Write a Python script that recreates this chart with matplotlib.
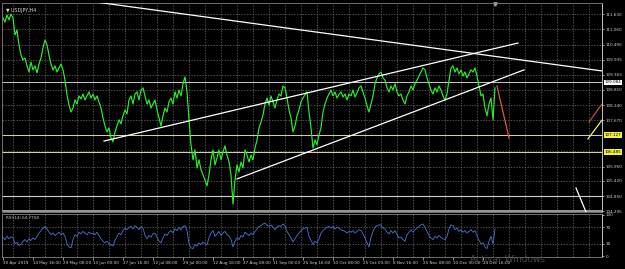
import matplotlib.pyplot as plt
import numpy as np

# USDJPY H4 close, one value per 4 bars
price = [
    111.48, 111.33, 111.59, 111.41, 111.63, 111.48, 110.85, 111.03, 110.48, 110.10,
    109.92, 109.99, 109.70, 109.47, 109.84, 109.55, 109.70, 109.44, 109.77, 109.99,
    110.37, 110.66, 110.48, 110.10, 109.77, 109.55, 109.70, 109.47, 109.62, 109.77,
    109.55, 109.17, 108.62, 108.24, 107.98, 108.13, 108.43, 108.28, 108.58, 108.47,
    108.65, 108.43, 108.58, 108.73, 108.50, 108.65, 108.43, 108.58, 108.36, 108.13,
    107.76, 107.46, 107.24, 107.39, 107.02, 106.87, 107.24, 107.46, 107.69, 107.54,
    107.84, 108.06, 107.91, 108.43, 108.58, 108.28, 108.65, 108.73, 108.43, 108.80,
    108.88, 108.58, 108.28, 108.43, 108.13, 108.28, 108.43, 108.06, 107.76, 107.46,
    107.84, 108.13, 107.98, 108.36, 108.50, 108.28, 108.73, 108.50, 108.80, 108.58,
    109.03, 109.29, 108.73, 107.69, 106.76, 106.20, 106.57, 105.90, 106.20, 105.83,
    105.64, 105.45, 105.23, 105.64, 106.20, 106.57, 106.01, 106.27, 106.57, 106.20,
    106.50, 106.72, 106.38, 106.12, 105.64, 104.55, 105.45, 106.01, 105.75, 106.12,
    105.90, 106.57, 106.38, 106.12, 106.38, 106.20, 106.64, 106.94, 107.39, 107.61,
    107.87, 108.28, 108.50, 108.24, 108.58, 108.36, 108.13, 108.43, 108.65, 108.58,
    108.95, 108.88, 108.50, 108.06, 107.76, 107.24, 107.46, 107.84, 108.06, 108.36,
    108.50, 108.62, 108.73, 107.98, 107.39, 106.64, 106.94, 106.76, 107.13, 107.39,
    107.98, 108.28, 108.50, 108.65, 108.80, 108.58, 108.73, 108.50, 108.65, 108.73,
    108.54, 108.65, 108.43, 108.65, 108.58, 108.80, 108.54, 108.69, 108.88, 108.95,
    108.73, 108.50, 108.21, 107.98, 108.28, 108.58, 109.03, 109.25, 109.40, 109.47,
    109.25, 109.17, 108.88, 108.73, 108.95, 108.80, 109.03, 108.73, 108.58, 108.65,
    108.43, 108.28, 108.58, 108.73, 108.95, 108.80, 109.03, 109.17, 109.32, 109.47,
    109.62, 109.55, 109.25, 109.03, 108.80, 108.65, 108.88, 108.73, 108.95, 108.80,
    108.58, 108.43, 108.65, 109.17, 109.62, 109.70, 109.47, 109.62, 109.40, 109.55,
    109.32, 109.47, 109.25, 109.40, 109.55, 109.47, 109.62, 109.32, 108.95, 108.58,
    108.65, 108.13, 107.84, 108.28, 108.50, 107.69, 108.88,
]

rsi = [
    45, 40, 48, 42, 47, 44, 30, 33, 26, 28, 36, 40, 34, 42, 38, 44,
    40, 48, 56, 62, 68, 72, 66, 58, 52, 56, 50, 54, 58, 52, 56, 48,
    30, 22, 20, 40, 52, 48, 58, 54, 60, 56, 52, 58, 54, 56, 52, 58, 50,
    42, 36, 32, 36, 30, 27, 25, 38, 48, 56, 52, 62, 68, 64,
    70, 72, 66, 74, 70, 64, 72, 68, 50, 42, 50, 46, 54, 56, 46,
    36, 32, 44, 54, 50, 58, 62, 56, 66, 62, 70, 64, 72, 74, 62,
    30, 20, 18, 28, 24, 32, 28, 34, 30, 27, 45, 56, 62, 48, 54,
    60, 50, 56, 60, 52, 48, 40, 22, 36, 44, 40, 50, 46, 58, 54, 50, 56, 52,
    60, 66, 72, 74, 78, 80, 76, 72, 76, 70, 64, 70, 74, 72, 78,
    74, 60, 52, 44, 34, 42, 50, 56, 62, 66, 68, 70, 48, 38, 28, 36, 32,
    42, 56, 62, 66, 70, 72, 68, 72, 66, 70, 68, 64,
    62, 60, 56, 60, 58, 62, 56, 60, 64, 62, 54, 44, 32, 22,
    46, 60, 70, 74, 76, 76, 68, 66, 58, 54, 62, 56, 62, 52, 44, 46,
    40, 36, 52, 58, 64, 58, 64, 68, 72, 76, 78, 70, 60, 50, 44, 40,
    48, 44, 50, 46, 42, 40, 48, 66, 76, 74,
    64, 68, 60, 64, 58, 62, 56, 60, 64, 58, 62, 50, 38, 30, 32, 22, 18,
    36, 48, 30, 66,
]

date_labels = ['30 Apr 2019', '14 May 16:00', '29 May 08:00', '13 Jun 00:00',
               '27 Jun 16:00', '12 Jul 08:00', '29 Jul 00:00', '12 Aug 16:00',
               '27 Aug 08:00', '11 Sep 00:00', '25 Sep 16:00', '10 Oct 08:00',
               '25 Oct 00:00', '8 Nov 16:00', '25 Nov 08:00', '10 Dec 00:00',
               '24 Dec 16:00']
price_ticks = [111.630, 111.060, 110.490, 109.935, 109.365, 108.810, 108.240,
               107.670, 105.950, 105.420, 104.850, 104.295]
grid_prices = [111.630, 111.060, 110.490, 109.935, 109.365, 108.810, 108.240,
               107.670, 107.110, 106.540, 105.950, 105.420, 104.850, 104.295]

# drawn objects: (x0, p0, x1, p1, colour)
trend_lines = [
    (46, 112.08, 299.5, 109.51, 'white'),
    (50.5, 106.90, 257.5, 110.55, 'white'),
    (117, 105.49, 260.5, 109.55, 'white'),
    (247, 108.95, 253, 107.01, '#e2533f'),
    (293, 107.61, 299.5, 108.28, '#c0503a'),
    (292.5, 106.98, 299.5, 107.68, '#f2f25a'),
    (286.5, 105.15, 291.5, 104.26, 'white'),
]
# horizontal levels: (price, colour, width)
levels = [(109.084, '#c8c8c8', 0.7), (107.127, '#d8d8a0', 0.7),
          (106.485, '#d8d8b0', 0.7), (104.850, '#d0d0d0', 0.8),
          (104.295, '#9a9a9a', 1.4)]

W, H = 625, 269
fig = plt.figure(figsize=(W / 100, H / 100), dpi=100, facecolor='black')
ax = fig.add_axes([2 / W, 1 - 212 / H, 600 / W, 209 / H], facecolor='black')
ax2 = fig.add_axes([2 / W, 1 - 257 / H, 600 / W, 43 / H], facecolor='black')

x = np.arange(len(price))
xr = np.arange(len(rsi))
xlim = (-0.5, 299.5)
grid_x = np.arange(5, 300, 8)
gkw = dict(color='#707070', lw=0.5, linestyle=(0, (2, 2)))
fs = 3.0

for a in (ax, ax2):
    a.set_xlim(*xlim)
    for s in ('left', 'top', 'bottom'):
        a.spines[s].set_color('#808080')
        a.spines[s].set_linewidth(0.6)
    a.spines['right'].set_color('#e0e0e0')
    a.spines['right'].set_linestyle((0, (2, 1)))
    a.spines['right'].set_linewidth(0.6)
    for gx in grid_x:
        a.axvline(gx, zorder=0, **gkw)

ax.set_ylim(104.258, 112.04)
for gp in grid_prices:
    ax.axhline(gp, zorder=0, **gkw)
for lv, c, w in levels:
    ax.axhline(lv, color=c, lw=w, zorder=1)

ax.plot(x, price, color='#28f028', lw=0.85, zorder=3)
for x0, p0, x1, p1, c in trend_lines:
    ax.plot([x0, x1], [p0, p1], color=c, lw=0.9, zorder=4)

ax.yaxis.tick_right()
ax.set_yticks(price_ticks)
ax.set_yticklabels([f'{p:.3f}' for p in price_ticks])
ax.tick_params(axis='y', colors='#d0d0d0', labelsize=fs, length=1.5, width=0.5, pad=1.2)
ax.set_xticks([])

box_labels = [(109.084, 'white'), (107.127, '#f0f040'), (106.485, '#f0f040')]
for lv, c in box_labels:
    ax.text(1.004, lv, f'{lv:.3f}', transform=ax.get_yaxis_transform(),
            fontsize=fs, color='black', va='center', ha='left',
            bbox=dict(boxstyle='square,pad=0.2', fc=c, ec='none'))

ax.text(0.006, 0.978, '\u25bc USDJPY,H4', transform=ax.transAxes, fontsize=3.4,
        color='#d8d8d8', va='top', ha='left', family=['DejaVu Sans'])
ax.plot([246], [112.0], marker='v', color='#a0a0a0', ms=2.5, clip_on=False)

# RSI panel
ax2.set_ylim(-2.4, 102.4)
for lv in (70, 30):
    ax2.axhline(lv, zorder=0, **gkw)
ax2.plot(xr, rsi, color='#4d73d6', lw=0.6, zorder=3)
ax2.yaxis.tick_right()
ax2.set_yticks([100, 70, 30, 0])
ax2.tick_params(axis='y', colors='#d0d0d0', labelsize=fs, length=1.5, width=0.5, pad=1.2)
ax2.text(0.006, 0.96, 'RSI(14) 64.7758', transform=ax2.transAxes, fontsize=fs,
         color='#c8c8c8', va='top', ha='left')

ax2.set_xticks(np.arange(0, 15 * len(date_labels), 15))
ax2.set_xticklabels(date_labels, ha='left')
ax2.tick_params(axis='x', colors='#d0d0d0', labelsize=fs, length=2, width=0.5, pad=1.2)

# faint watermark of the screenshot
fig.text(507 / W, 1 - 260 / H, 'Activar Windows', fontsize=6.5, color='#4a4a4a',
         ha='center', va='center', zorder=0)

fig.savefig('out.png', dpi=100, facecolor='black')
